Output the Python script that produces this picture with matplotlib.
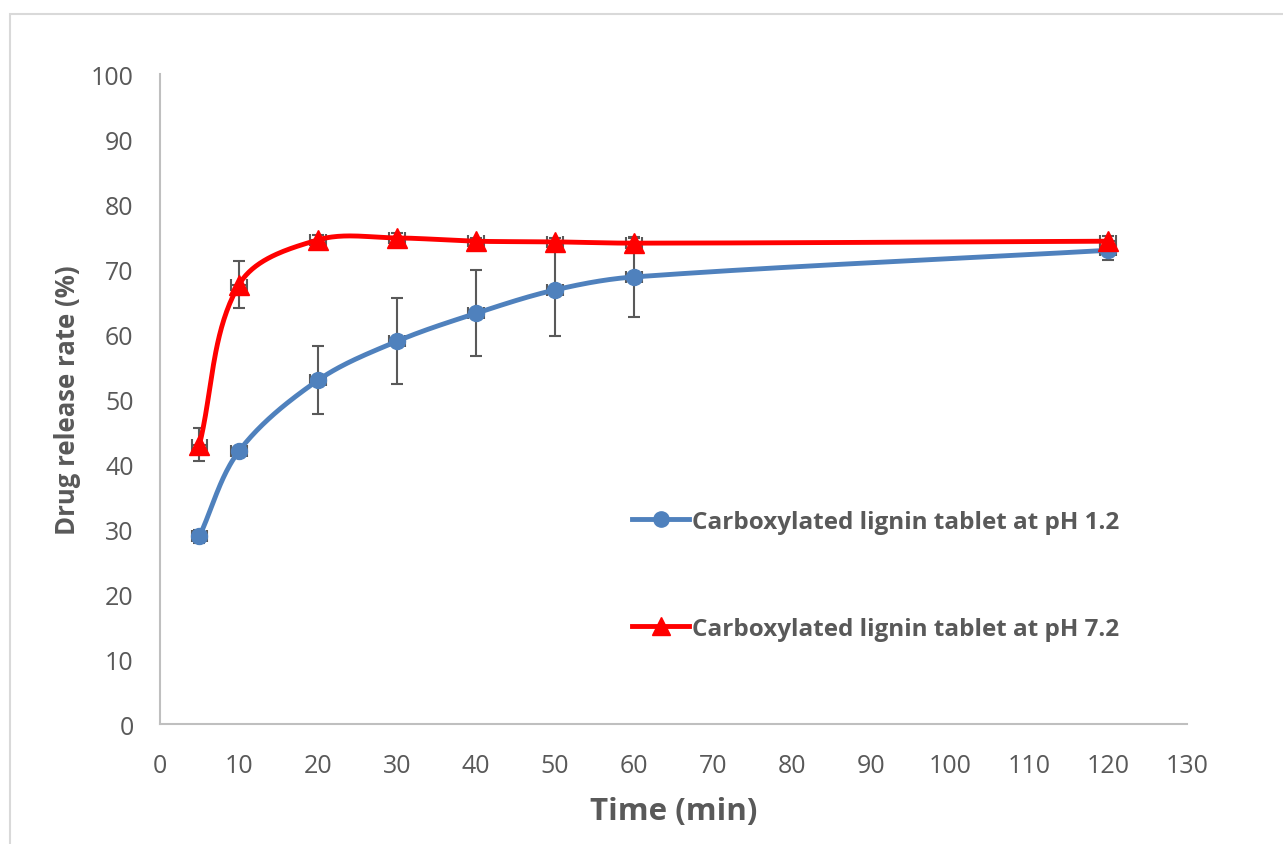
import matplotlib.pyplot as plt
import numpy as np
from matplotlib.patches import Rectangle

time_min = [5, 10, 20, 30, 40, 50, 60, 120]
ph12 = [28.9, 42.0, 52.9, 58.9, 63.2, 66.8, 68.8, 72.9]
ph12_err = [1.0, 0.6, 5.2, 6.6, 6.6, 7.1, 6.2, 1.5]
ph72 = [43.0, 67.6, 74.5, 74.8, 74.3, 74.2, 74.0, 74.3]
ph72_err = [2.6, 3.6, 0.8, 0.7, 0.5, 0.6, 0.8, 0.8]
x_err = 1.0

labels = ['Carboxylated lignin tablet at pH 1.2', 'Carboxylated lignin tablet at pH 7.2']
grey = '#595959'


def smooth(x, y, kx=7.9, ky=6.5, n=40):
    # smoothed line like Excel: bezier segments, tangent from neighbours,
    # handle length a third of the segment (in screen-ish units)
    p = np.column_stack([np.asarray(x, float) * kx, np.asarray(y, float) * ky])
    m = len(p)
    tang = np.zeros_like(p)
    for i in range(m):
        a = p[max(i - 1, 0)]
        b = p[min(i + 1, m - 1)]
        d = b - a
        tang[i] = d / np.linalg.norm(d)
    t = np.linspace(0, 1, n)[:, None]
    out = []
    for i in range(m - 1):
        p0, p3 = p[i], p[i + 1]
        L = np.linalg.norm(p3 - p0) / 3
        c1 = p0 + tang[i] * L
        c2 = p3 - tang[i + 1] * L
        b = (1 - t) ** 3 * p0 + 3 * (1 - t) ** 2 * t * c1 + 3 * (1 - t) * t ** 2 * c2 + t ** 3 * p3
        out.append(b)
    out = np.vstack(out)
    return out[:, 0] / kx, out[:, 1] / ky


plt.rcParams['font.family'] = ['Open Sans', 'DejaVu Sans']

fig = plt.figure(figsize=(12.83, 8.45), dpi=100)
ax = fig.add_axes([0.1247, 0.142, 0.8003, 0.769])

fig.patches.append(Rectangle((10 / 1283, -0.1), 1.2, 1.1 - 15 / 845,
                             transform=fig.transFigure, fill=False,
                             edgecolor='#d9d9d9', linewidth=1.5, zorder=0))

for y, err in [(ph12, ph12_err), (ph72, ph72_err)]:
    ax.errorbar(time_min, y, yerr=err, xerr=x_err, fmt='none', ecolor=grey,
                elinewidth=1.5, capsize=4, capthick=1.5, zorder=2)

sx, sy = smooth(time_min, ph12)
ax.plot(sx, sy, color='#4f81bd', lw=3.5, zorder=3, solid_capstyle='round')
ax.plot(time_min, ph12, 'o', color='#4f81bd', ms=11.5, zorder=4)
sx, sy = smooth(time_min, ph72)
ax.plot(sx, sy, color='#ff0000', lw=3.5, zorder=3, solid_capstyle='round')
ax.plot(time_min, ph72, '^', color='#ff0000', ms=15, zorder=4)

h1, = ax.plot([], [], '-o', color='#4f81bd', lw=3.5, ms=11)
h2, = ax.plot([], [], '-^', color='#ff0000', lw=3.5, ms=13)
leg = ax.legend([h1, h2], labels, loc='center left', bbox_to_anchor=(0.46, 0.229),
                frameon=False, labelspacing=3.4, handlelength=2.35, handletextpad=0.12,
                borderaxespad=0, borderpad=0,
                prop={'weight': 'bold', 'size': 17.5})
for t in leg.get_texts():
    t.set_color(grey)

ax.set_xlim(0, 130)
ax.set_ylim(0, 100)
ax.set_xticks(np.arange(0, 131, 10))
ax.set_yticks(np.arange(0, 101, 10))
ax.tick_params(axis='y', labelsize=18, colors=grey, length=0, pad=19)
ax.tick_params(axis='x', labelsize=18, colors=grey, length=0, pad=21)
for s in ['top', 'right']:
    ax.spines[s].set_visible(False)
for s in ['left', 'bottom']:
    ax.spines[s].set_color('#bfbfbf')
    ax.spines[s].set_linewidth(1.5)

ax.set_xlabel('Time (min)', fontsize=22.5, fontweight='bold', color=grey, labelpad=13)
ax.set_ylabel('Drug release rate (%)', fontsize=18.5, fontweight='bold', color=grey, labelpad=7)

fig.savefig('out.png', dpi=100)
